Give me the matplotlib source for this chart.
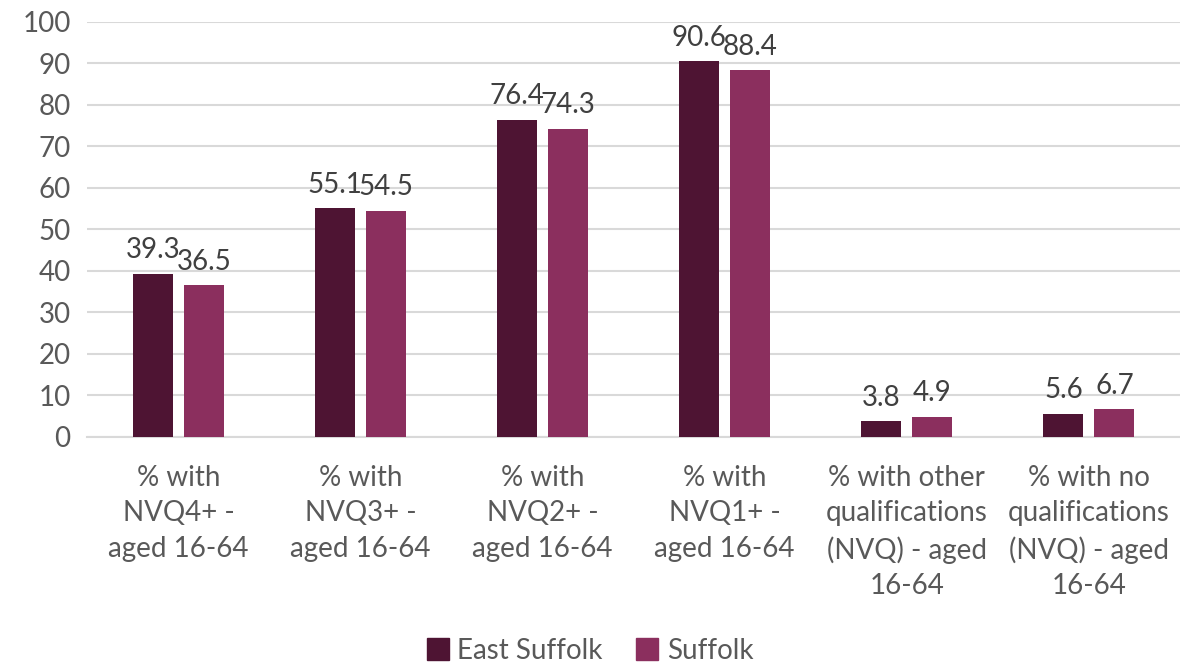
import numpy as np
import matplotlib.pyplot as plt
import matplotlib.patches as mpatches

# 數據
categories = ['% with\nNVQ4+ -\naged 16-64',
              '% with\nNVQ3+ -\naged 16-64',
              '% with\nNVQ2+ -\naged 16-64',
              '% with\nNVQ1+ -\naged 16-64',
              '% with other\nqualifications\n(NVQ) - aged\n16-64',
              '% with no\nqualifications\n(NVQ) - aged\n16-64']
east_suffolk = [39.3, 55.1, 76.4, 90.6, 3.8, 5.6]
suffolk = [36.5, 54.5, 74.3, 88.4, 4.9, 6.7]
series_names = ['East Suffolk', 'Suffolk']
series_colors = ['#4E1433', '#8B2F5E']

plt.rcParams['font.family'] = ['Lato', 'DejaVu Sans']

fig = plt.figure(figsize=(11.8, 6.64), dpi=100)
ax = fig.add_axes([0.074, 0.342, 0.926, 0.625])

x = np.arange(len(categories))
w = 0.22
gap = 0.06
b1 = ax.bar(x - (w + gap) / 2, east_suffolk, w, color=series_colors[0], zorder=3)
b2 = ax.bar(x + (w + gap) / 2, suffolk, w, color=series_colors[1], zorder=3)

# 數據標籤
for bars, vals in [(b1, east_suffolk), (b2, suffolk)]:
    for rect, v in zip(bars, vals):
        ax.text(rect.get_x() + rect.get_width() / 2, v + 2.5, f'{v}',
                ha='center', va='bottom', fontsize=20, color='#404040')

ax.set_xlim(-0.5, len(categories) - 0.5)
ax.set_ylim(0, 100)
ax.yaxis.set_major_locator(plt.MultipleLocator(10))
ax.grid(axis='y', color='#D9D9D9', linewidth=1.5, zorder=0)
for s in ['top', 'right', 'left']:
    ax.spines[s].set_visible(False)
ax.spines['bottom'].set_color('#D9D9D9')
ax.spines['bottom'].set_linewidth(1.5)

ax.set_xticks(x)
ax.set_xticklabels(categories, fontsize=20, color='#595959', linespacing=1.45)
ax.tick_params(axis='x', length=0, pad=20)
ax.tick_params(axis='y', length=0, labelsize=20, labelcolor='#595959', pad=12)

# 圖例
handles = [mpatches.Patch(color=c, label=n) for c, n in zip(series_colors, series_names)]
fig.legend(handles=handles, loc='lower center', bbox_to_anchor=(0.5, -0.037), ncol=2,
           frameon=False, fontsize=20, labelcolor='#595959', handlelength=0.8,
           handleheight=0.8, handletextpad=0.3, columnspacing=1.2)

plt.savefig('out.png', dpi=100)
